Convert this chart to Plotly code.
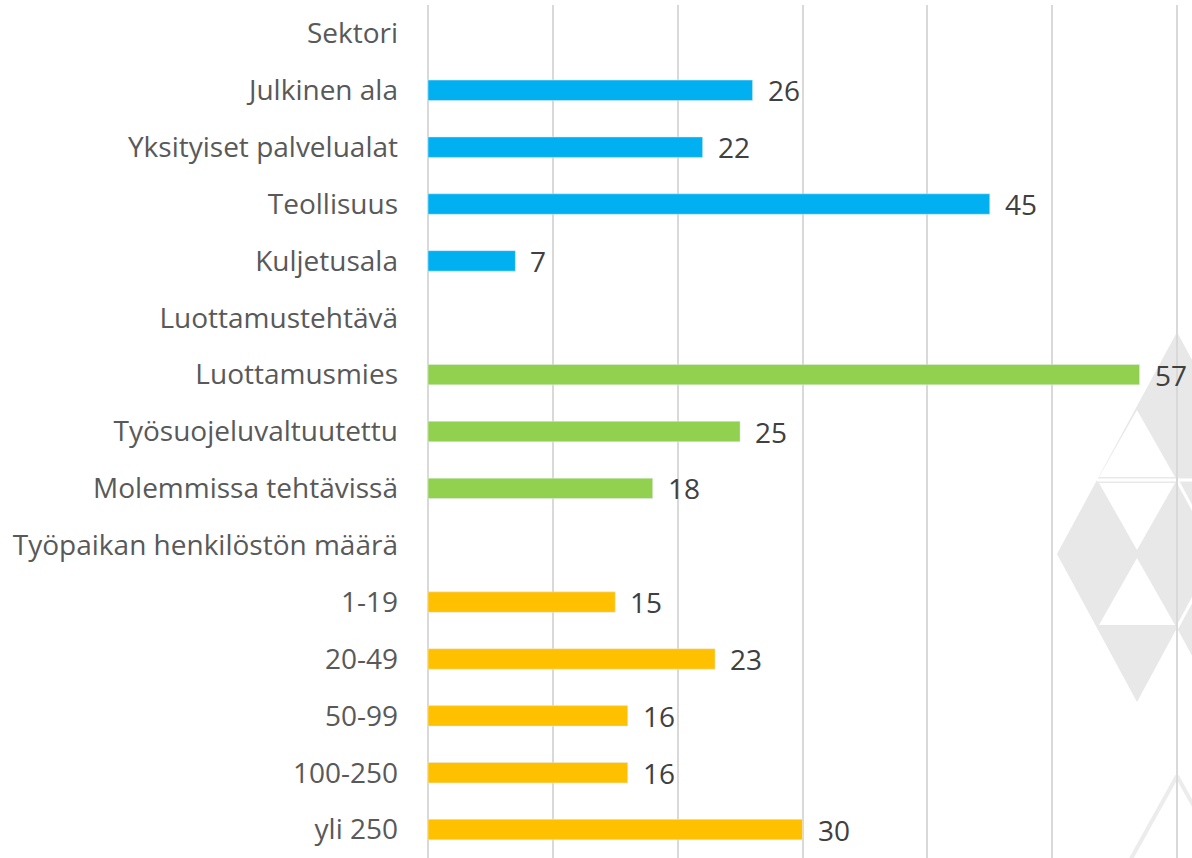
import plotly.graph_objects as go

#%% DATA

categories = [
    'Sektori', 'Julkinen ala', 'Yksityiset palvelualat', 'Teollisuus', 'Kuljetusala',
    'Luottamustehtävä', 'Luottamusmies', 'Työsuojeluvaltuutettu', 'Molemmissa tehtävissä',
    'Työpaikan henkilöstön määrä', '1-19', '20-49', '50-99', '100-250', 'yli 250',
]
values = [None, 26, 22, 45, 7, None, 57, 25, 18, None, 15, 23, 16, 16, 30]
groups = ['h', 'sek', 'sek', 'sek', 'sek', 'h', 'luo', 'luo', 'luo', 'h',
          'hen', 'hen', 'hen', 'hen', 'hen']
group_colors = {'h': 'rgba(0,0,0,0)', 'sek': '#00B0F0', 'luo': '#92D050', 'hen': '#FFC000'}

#%% FIGURE

W, H = 1192, 858
ML, MT = 427, 5

fig = go.Figure()

fig.add_trace(go.Bar(
    y=categories,
    x=values,
    orientation='h',
    width=0.36,
    marker_color=[group_colors[g] for g in groups],
    hoverinfo='x+y',
))

# value labels next to bar ends
for c, v in zip(categories, values):
    if v is None:
        continue
    fig.add_annotation(
        x=v, y=c, text=str(v), showarrow=False,
        xanchor='left', xshift=13,
        font=dict(family='Open Sans', size=28, color='#404040'),
    )

# background watermark (pixel coords -> paper)
def px(x, y):
    return (x - ML) / (W - ML), 1 - (y - MT) / (H - MT)

def path(points):
    pts = [px(*p) for p in points]
    return 'M ' + ' L '.join(f'{a:.4f},{b:.4f}' for a, b in pts) + ' Z'

gray = '#e8e8e8'
shapes = [
    dict(type='path', path=path([(1177, 332), (1057, 554), (1137, 702), (1177, 628),
                                 (1217, 702), (1297, 554)]),
         fillcolor=gray, line_width=0),
    dict(type='path', path=path([(1137, 410), (1099, 477), (1175, 477)]),
         fillcolor='white', line_width=0),
    dict(type='path', path=path([(1099, 483), (1175, 483), (1137, 550)]),
         fillcolor='white', line_width=0),
    dict(type='path', path=path([(1137, 558), (1099, 625), (1175, 625)]),
         fillcolor='white', line_width=0),
]
for (x0, y0, x1, y1) in [(1097, 480, 1257, 480), (1177, 480, 1217, 554),
                         (1177, 628, 1217, 554)]:
    a, b = px(x0, y0)
    c, d = px(x1, y1)
    shapes.append(dict(type='line', x0=a, y0=b, x1=c, y1=d,
                       line=dict(color='white', width=3)))
for (x0, y0, x1, y1) in [(1177, 776, 1127, 866), (1177, 776, 1227, 866)]:
    a, b = px(x0, y0)
    c, d = px(x1, y1)
    shapes.append(dict(type='line', x0=a, y0=b, x1=c, y1=d,
                       line=dict(color='#ececec', width=4)))
for s in shapes:
    s.update(xref='paper', yref='paper', layer='below')

fig.update_layout(
    width=W, height=H,
    margin=dict(l=ML, r=0, t=MT, b=0),
    paper_bgcolor='white',
    plot_bgcolor='rgba(0,0,0,0)',
    showlegend=False,
    shapes=shapes,
    font=dict(family='Open Sans', color='#595959'),
    xaxis=dict(
        range=[-0.08, 61.2], dtick=10, showticklabels=False,
        showgrid=True, gridcolor='#d9d9d9', gridwidth=2,
        zeroline=True, zerolinecolor='#d9d9d9', zerolinewidth=2,
        fixedrange=True,
    ),
    yaxis=dict(
        categoryorder='array', categoryarray=categories,
        autorange='reversed',
        showgrid=False, zeroline=False,
        tickfont=dict(family='Open Sans', size=28, color='#595959'),
        ticklabelstandoff=28,
    ),
)

fig.write_html("out.html", config={'displayModeBar': False},
               post_script="document.body.style.margin='0';")
